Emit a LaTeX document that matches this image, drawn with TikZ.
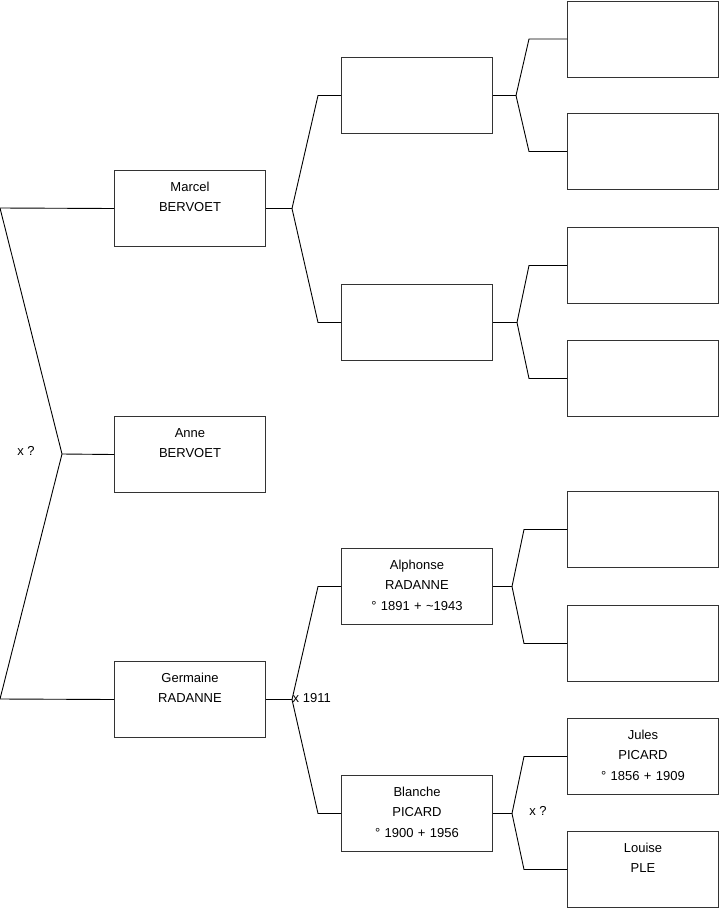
\documentclass[tikz,border=0pt]{standalone}
\usepackage{fontspec}
\setmainfont{Liberation Sans}
\begin{document}
\begin{tikzpicture}[x=1pt,y=-1pt,
  pbox/.style={draw=black!80,line width=1pt,rectangle,anchor=north west,
    minimum width=151pt,minimum height=76pt,inner sep=0pt,
    text width=151pt,align=center,text height=21pt,text depth=55pt,
    font=\fontsize{13}{20.3}\selectfont},
  conn/.style={draw=black,line width=0.9pt},
  lab/.style={font=\fontsize{13}{15}\selectfont,inner sep=0pt}]
\useasboundingbox (0,0) rectangle (719,908);
% generation 1
\node[pbox] (m) at (114,170) {Marcel\\BERVOET};
\node[pbox] (a) at (114,416) {Anne\\BERVOET};
\node[pbox] (g) at (114,661) {Germaine\\RADANNE};
% generation 2
\node[pbox] (p1) at (341,57) {};
\node[pbox] (p2) at (341,284) {};
\node[pbox] (p3) at (341,548) {Alphonse\\RADANNE\\° 1891 + \textasciitilde1943};
\node[pbox] (p4) at (341,775) {Blanche\\PICARD\\° 1900 + 1956};
% generation 3
\node[pbox] (q1) at (567,0.5) {};
\node[pbox] (q2) at (567,113) {};
\node[pbox] (q3) at (567,227) {};
\node[pbox] (q4) at (567,340) {};
\node[pbox] (q5) at (567,491) {};
\node[pbox] (q6) at (567,605) {};
\node[pbox] (q7) at (567,718) {Jules\\PICARD\\° 1856 + 1909};
\node[pbox] (q8) at (567,831) {Louise\\PLE};
% left fork
\coordinate (lm) at (0,208);
\coordinate (lg) at (0,699);
\coordinate (fl) at (62,454);
\draw[conn] (m.west) -- (lm) -- (fl) -- (lg) -- (g.west);
\draw[conn] (fl) -- (a.west);
\node[lab] (xl) at (26,451) {x ?};
% forks gen1 -> gen2
\foreach \c/\u/\l in {m/p1/p2, g/p3/p4}{
  \coordinate (f\c) at ([xshift=26pt]\c.east);
  \coordinate (e\u) at ([xshift=-23pt]\u.west);
  \coordinate (e\l) at ([xshift=-23pt]\l.west);
  \draw[conn] (\c.east) -- (f\c);
  \draw[conn] (\u.west) -- (e\u) -- (f\c) -- (e\l) -- (\l.west);
}
\node[lab,anchor=west] (xg) at (292.5,698) {x 1911};
% forks gen2 -> gen3
\foreach \c/\u/\l/\fs/\es in {p1/q1/q2/23/38, p2/q3/q4/24/38, p3/q5/q6/19/43, p4/q7/q8/19/43}{
  \coordinate (f\c) at ([xshift=\fs pt]\c.east);
  \coordinate (e\u) at ([xshift=-\es pt]\u.west);
  \coordinate (e\l) at ([xshift=-\es pt]\l.west);
  \draw[conn] (\c.east) -- (f\c);
  \draw[conn] (\u.west) -- (e\u) -- (f\c) -- (e\l) -- (\l.west);
}
\node[lab] (xb) at (538,811) {x ?};
\end{tikzpicture}
\end{document}
